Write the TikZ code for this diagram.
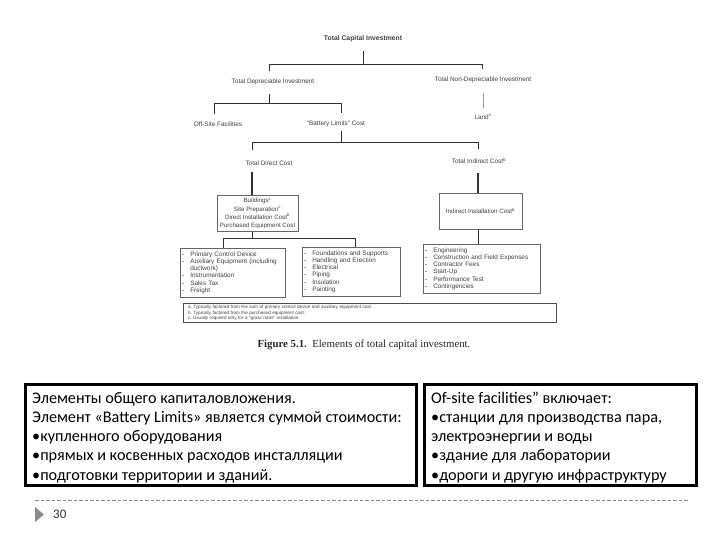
\documentclass[tikz,border=0pt]{standalone}
\usepackage{fontspec}
\setmainfont{Liberation Sans}
\newfontfamily\carl{Carlito}
\newfontfamily\tms{Liberation Serif}
\usetikzlibrary{calc}
\newcommand\lbul{\makebox[8pt][l]{\fontsize{4.5}{4.5}\selectfont\textbullet}}
\begin{document}
\begin{tikzpicture}[x=1pt,y=-1pt,
  scan/.style={text=black!75},
  lbl/.style={scan, font=\fontsize{6.4}{7}\selectfont, inner sep=0.5pt},
  ln/.style={draw=black!80, line width=0.8pt},
  costbox/.style={draw=black!60, line width=0.5pt, scan, font=\fontsize{6.2}{8.3}\selectfont, align=center, inner sep=2.5pt},
  listbox/.style={draw=black!60, line width=0.5pt, scan, font=\fontsize{6.4}{7.2}\selectfont, align=left, inner xsep=2pt, inner ysep=3.5pt, anchor=north west},
  slidebox/.style={draw=black, line width=2.6pt, minimum height=101.4pt, inner sep=0pt},
  bt/.style={font=\carl\fontsize{16.2}{19}\selectfont, anchor=base west, inner sep=0pt},
]
\useasboundingbox[fill=white] (0,0) rectangle (720,540);

% ---- scanned figure ----
\node[scan, font=\bfseries\fontsize{6.8}{7.5}\selectfont, inner sep=0.5pt] (tci) at (363,39) {Total Capital Investment};
\node[lbl] (tdi) at (273,82) {Total Depreciable Investment};
\node[lbl] (tndi) at (483,80) {Total Non-Depreciable Investment};
\node[lbl] (osf) at (218,124) {Off-Site Facilities};
\node[lbl] (blc) at (336,124) {``Battery Limits'' Cost};
\node[lbl] (land) at (483,117) {Land\textsuperscript{c}};
\node[lbl] (tdc) at (269,163) {Total Direct Cost};
\node[lbl] (tic) at (479,161) {Total Indirect Cost\textsuperscript{b}};

\node[costbox, minimum width=81pt] (bldg) at (257.5,213.5)
  {Buildings\textsuperscript{c}\\Site Preparation\textsuperscript{c}\\Direct Installation Cost\textsuperscript{b}\\Purchased Equipment Cost};
\node[costbox, minimum width=83pt, minimum height=36pt] (iic) at (480.5,211)
  {Indirect Installation Cost\textsuperscript{b}};

\node[listbox, text width=101pt] (list1) at (180,248)
  {\lbul Primary Control Device\\\lbul Auxiliary Equipment (including\\\hspace*{8pt}ductwork)\\\lbul Instrumentation\\\lbul Sales Tax\\\lbul Freight};
\node[listbox, text width=94pt] (list2) at (302,247)
  {\lbul Foundations and Supports\\\lbul Handling and Erection\\\lbul Electrical\\\lbul Piping\\\lbul Insulation\\\lbul Painting};
\node[listbox, text width=113pt] (list3) at (423,244)
  {\lbul Engineering\\\lbul Construction and Field Expenses\\\lbul Contractor Fees\\\lbul Start-Up\\\lbul Performance Test\\\lbul Contingencies};

\node[draw=black!70, line width=0.6pt, scan, font=\fontsize{4.6}{4.2}\selectfont, align=left, text width=363pt, minimum height=18pt, inner xsep=5pt, inner ysep=2pt] (fn) at (369.5,313)
  {a.\ Typically factored from the sum of primary control device and auxiliary equipment cost.\\
   b.\ Typically factored from the purchased equipment cost.\\
   c.\ Usually required only for a ``grass roots'' installation.};

\node[font=\tms\fontsize{10.8}{12}\selectfont, text=black!85, inner sep=0pt] (cap) at (364,345)
  {\textbf{Figure 5.1.}\enspace Elements of total capital investment.};

% connectors
\coordinate (j1L) at (269,64); \coordinate (j1R) at (482,64);
\draw[ln] ($(tci.south)+(0,8)$) -- (tci.south |- j1L);
\draw[ln] ($(tdi.north -| j1L)+(0,-7)$) -- (j1L) -- (j1R) -- ($(tndi.north -| j1R)+(0,-7)$);

\coordinate (j2L) at (214,103); \coordinate (j2R) at (341,103);
\draw[ln] ($(tdi.south -| j1L)+(0,8)$) -- (j1L |- j2L);
\draw[ln] ($(osf.north -| j2L)+(0,-7)$) -- (j2L) -- (j2R) -- ($(blc.north -| j2R)+(0,-7)$);
\draw[draw=black!40, line width=0.5pt] ($(tndi.south)+(0,9)$) -- ($(land.north)+(0,-6)$);

\coordinate (j3L) at (252,142); \coordinate (j3R) at (478,142);
\draw[ln] ($(blc.south -| j2R)+(0,3)$) -- (j3L -| j2R);
\draw[ln] ($(tdc.north -| j3L)+(0,-10)$) -- (j3L) -- (j3R) -- ($(tic.north -| j3R)+(0,-8)$);

\draw[ln, line width=1.1pt] ($(tdc.south -| j3L)+(0,6)$) -- (bldg.north -| j3L);
\draw[ln, line width=1.1pt] ($(tic.south -| j3R)+(0,8)$) -- (iic.north -| j3R);

\coordinate (j5L) at (223,238); \coordinate (j5R) at (355,238);
\draw[ln] (bldg.south -| j3L) -- (j3L |- j5L);
\draw[ln] (list1.north -| j5L) -- (j5L) -- (j5R) -- (list2.north -| j5R);
\draw[ln] (iic.south -| j3R) -- (list3.north -| j3R);

% ---- slide text boxes ----
\node[slidebox, minimum width=391.4pt] (sb1) at (221,435) {};
\node[slidebox, minimum width=272.4pt] (sb2) at (560.5,435) {};

\node[bt] (a1) at (32,403) {Элементы общего капиталовложения.};
\node[bt] (a2) at (32,422.3) {Элемент «Battery Limits» является суммой стоимости:};
\node[bt] (a3) at (32,441.6) {•купленного оборудования};
\node[bt] (a4) at (32,460.9) {•прямых и косвенных расходов инсталляции};
\node[bt] (a5) at (32,480.2) {•подготовки территории и зданий.};

\node[bt] (b1) at (431,403) {Of-site facilities” включает:};
\node[bt] (b2) at (431,422.3) {•станции для производства пара,};
\node[bt] (b3) at (431,441.6) {электроэнергии и воды};
\node[bt] (b4) at (431,460.9) {•здание для лаборатории};
\node[bt] (b5) at (431,480.2) {•дороги и другую инфраструктуру};

% footer
\coordinate (dl1) at (35,500); \coordinate (dl2) at (689,500);
\draw[draw=black!45, dash pattern=on 3.5pt off 2pt, line width=0.7pt] (dl1) -- (dl2);
\fill[black!45] (35,507) -- (44,514.5) -- (35,522) -- cycle;
\node[font=\carl\fontsize{13}{15}\selectfont, text=black!80, anchor=west, inner sep=0pt] (pg) at (53,514) {30};
\end{tikzpicture}
\end{document}
